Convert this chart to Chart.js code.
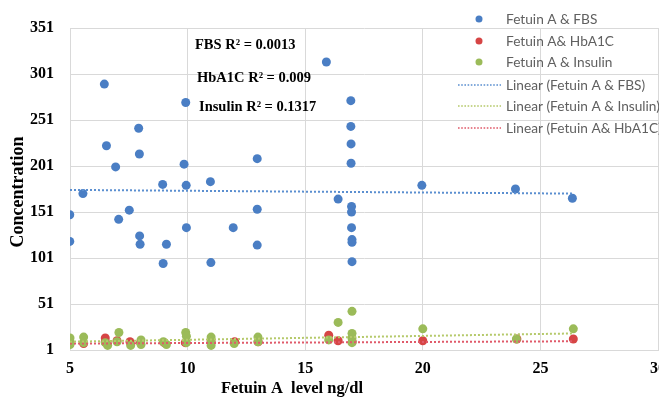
<!DOCTYPE html>
<html><head><meta charset="utf-8">
<script src="https://cdn.jsdelivr.net/npm/chart.js@4"></script>
<style>html,body{margin:0;padding:0;overflow:hidden;background:#fff;width:659px;height:399px}canvas{display:block}</style>
</head><body>
<canvas id="c" width="680" height="399" style="width:680px;height:399px"></canvas>
<script>
// ---- data ----
const fbsFetuin = [6.46,9.92,7.92,6.55,7.95,6.94,9.85,12.96,8.94,9.94,10.97,5.55,4.99,7.52,12.96,7.07,9.95,11.94,7.96,4.99,7.98,9.1,12.96,8.96,10.99,15.9,16.4,16.94,16.94,16.95,16.95,16.97,16.97,16.97,16.99,16.99,16.99,19.96,23.94,26.36];
const fbsValues = [290,270,242,223,214,200,203,209,181,180,184,171,148,153,154,143,134,134,125,119,116,116,115,95,96,314,165,272,244,225,204,157,151,134,121,118,97,180,176,166];

const hba1cFetuin = [5,5.58,6.5,6.5,7.0,7.55,8.0,9.0,9.9,11.0,12.0,13.0,16.0,16.4,17.0,20.0,24.0,26.4];
const hba1cValues = [8,8,14,10,11,10,9,9,9,10,10,10,17,11,10,11,13,13];

const insulinFetuin = [5,5,5,5.58,5.58,6.5,6.6,7.08,7.0,7.58,8.02,8.02,8.97,9.1,9.92,9.95,9.95,11.0,11.0,11.0,11.98,12.99,12.99,16.0,16.4,16.99,16.99,16.99,16.99,20.0,23.98,26.4];
const insulinValues = [14,10,7,15,9,9,6,20,10,6,12,7,10,7,20,16,9,15,9,6,8,15,10,12,31,43,19,14,9,24,13,24];

// trendline end points as drawn in the picture
const trendX = [5, 26.4];
const trendFBS = [175, 171];
const trendInsulin = [10, 19];
const trendHbA1c = [8, 10.5];

const xTicks = [5,10,15,20,25,30];
const yTicks = [1,51,101,151,201,251,301,351];

const legendLabels = ['Fetuin A & FBS','Fetuin A& HbA1C','Fetuin A & Insulin','Linear (Fetuin A & FBS)','Linear (Fetuin A & Insulin)','Linear (Fetuin A& HbA1C)'];
const rSquaredLabels = ['FBS R\u00b2 = 0.0013','HbA1C R\u00b2 = 0.009','Insulin R\u00b2 = 0.1317'];
const xTitle = 'Fetuin A  level ng/dl';
const yTitle = 'Concentration';

// ---- styles ----
const BLUE='#4a7ec4', RED='#d64545', GREEN='#9bbb59';
const TBLUE='#5b8fd0', TRED='#e05a6a', TGREEN='#b5c96a';
const pts=(xs,ys)=>xs.map((x,i)=>({x:x,y:ys[i]}));

const overlay={
  id:'overlay',
  afterDraw(chart){
    const ctx=chart.ctx;
    ctx.save();
    // legend
    const colors=[BLUE,RED,GREEN,TBLUE,TGREEN,TRED];
    const rowsY=[19,41,62,85,106,128];
    ctx.font='13.7px Lato';
    ctx.textBaseline='middle';
    ctx.textAlign='left';
    legendLabels.forEach((t,i)=>{
      const y=rowsY[i];
      if(i<3){
        ctx.fillStyle=colors[i];
        ctx.beginPath();ctx.arc(479,y,3.5,0,Math.PI*2);ctx.fill();
      } else {
        ctx.strokeStyle=colors[i];ctx.lineWidth=1.6;ctx.setLineDash([1.6,1.6]);
        ctx.beginPath();ctx.moveTo(458,y);ctx.lineTo(501,y);ctx.stroke();
        ctx.setLineDash([]);
      }
      ctx.fillStyle='#606060';
      ctx.fillText(t,506,y+1);
    });
    // R^2 annotations
    ctx.fillStyle='#000';
    ctx.font='bold 14.5px "Liberation Serif"';
    const ax=[195,197,199], ay=[45,78,107];
    rSquaredLabels.forEach((t,i)=>ctx.fillText(t,ax[i],ay[i]));
    // axis titles
    ctx.font='bold 16.5px "Liberation Serif"';
    ctx.textAlign='center';
    ctx.fillText(xTitle,292,389);
    ctx.translate(18,192);ctx.rotate(-Math.PI/2);
    ctx.font='bold 18px "Liberation Serif"';
    ctx.fillText(yTitle,0,0);
    ctx.restore();
  }
};

const tickFont={family:'"Liberation Serif"',weight:'bold',size:16};
new Chart(document.getElementById('c'),{
  type:'scatter',
  data:{datasets:[
    {label:'Linear (Fetuin A & FBS)',data:pts(trendX,trendFBS),showLine:true,borderColor:TBLUE,borderWidth:2,borderDash:[2,2],pointRadius:0,order:0},
    {label:'Linear (Fetuin A & Insulin)',data:pts(trendX,trendInsulin),showLine:true,borderColor:TGREEN,borderWidth:2,borderDash:[2,2],pointRadius:0,order:0},
    {label:'Linear (Fetuin A& HbA1C)',data:pts(trendX,trendHbA1c),showLine:true,borderColor:TRED,borderWidth:2,borderDash:[2,2],pointRadius:0,order:0},
    {label:'Fetuin A & Insulin',data:pts(insulinFetuin,insulinValues),backgroundColor:GREEN,borderColor:GREEN,pointRadius:4.5,borderWidth:0,order:1},
    {label:'Fetuin A& HbA1C',data:pts(hba1cFetuin,hba1cValues),backgroundColor:RED,borderColor:RED,pointRadius:4.5,borderWidth:0,order:2},
    {label:'Fetuin A & FBS',data:pts(fbsFetuin,fbsValues),backgroundColor:BLUE,borderColor:BLUE,pointRadius:4.5,borderWidth:0,order:3}
  ]},
  options:{
    responsive:false,animation:false,devicePixelRatio:1,
    layout:{padding:{top:28,right:22,left:0,bottom:0}},
    plugins:{legend:{display:false},tooltip:{enabled:false}},
    scales:{
      x:{type:'linear',min:5,max:30,
        afterBuildTicks:s=>{s.ticks=xTicks.map(v=>({value:v}));},
        afterFit:s=>{s.height=49;},
        grid:{color:'#d9d9d9',drawTicks:false},border:{color:'#d9d9d9'},
        ticks:{font:tickFont,color:'#000',padding:9,maxRotation:0}},
      y:{type:'linear',min:1,max:351,
        afterBuildTicks:s=>{s.ticks=yTicks.map(v=>({value:v}));},
        afterFit:s=>{s.width=70;},
        grid:{color:'#d9d9d9',drawTicks:false},border:{color:'#d9d9d9'},
        ticks:{font:tickFont,color:'#000',padding:16}}
    }
  },
  plugins:[overlay]
});
</script>
</body></html>
